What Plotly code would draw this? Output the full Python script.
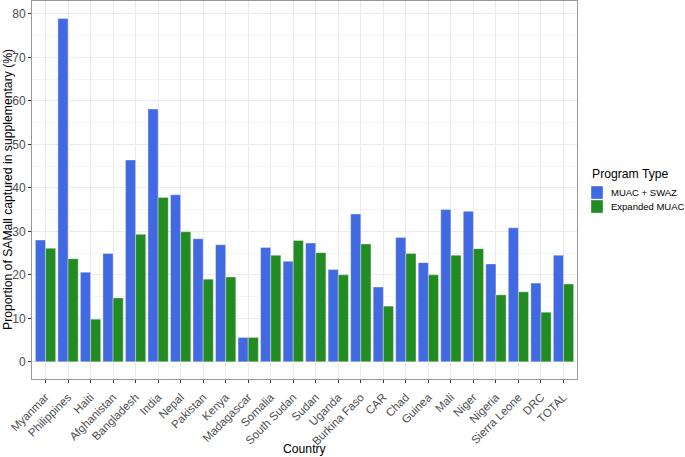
import plotly.graph_objects as go

countries = ["Myanmar", "Philippines", "Haiti", "Afghanistan", "Bangladesh", "India", "Nepal",
             "Pakistan", "Kenya", "Madagascar", "Somalia", "South Sudan", "Sudan", "Uganda",
             "Burkina Faso", "CAR", "Chad", "Guinea", "Mali", "Niger", "Nigeria",
             "Sierra Leone", "DRC", "TOTAL"]
muac_swaz = [28.0, 78.9, 20.6, 24.9, 46.4, 58.1, 38.4, 28.3, 26.9, 5.6, 26.3, 23.1, 27.3, 21.2,
             34.0, 17.2, 28.6, 22.8, 35.0, 34.6, 22.5, 30.8, 18.1, 24.5]
expanded_muac = [26.1, 23.7, 9.8, 14.7, 29.3, 37.8, 29.9, 19.0, 19.5, 5.6, 24.5, 27.9, 25.1, 20.0,
                 27.1, 12.8, 24.9, 20.0, 24.5, 26.0, 15.4, 16.1, 11.4, 17.9]
series_names = ["MUAC + SWAZ", "Expanded MUAC"]
series_colors = ["#4169E1", "#228B22"]
y_ticks = [0, 10, 20, 30, 40, 50, 60, 70, 80]

W, H = 685, 457
L, R, T, B = 32, 108, 1, 78

fig = go.Figure()
for name, vals, col in zip(series_names, [muac_swaz, expanded_muac], series_colors):
    fig.add_trace(go.Bar(x=countries, y=vals, name=name, showlegend=False,
                         marker=dict(color=col, line=dict(color="rgba(255,255,255,0.6)", width=0.6))))

# Legend drawn manually (ggplot-style compact keys)
def px_x(p):
    return (p - L) / (W - L - R)

def px_y(p):
    return 1 - (p - T) / (H - T - B)

annotations = [
    dict(text="Program Type", x=px_x(590), y=px_y(174), xref="paper", yref="paper",
         xanchor="left", yanchor="middle", showarrow=False,
         font=dict(size=12.2, color="#000")),
    dict(text="Country", x=0.5, y=px_y(449), xref="paper", yref="paper",
         xanchor="center", yanchor="middle", showarrow=False,
         font=dict(size=12.2, color="#000")),
    dict(text="Proportion of SAMall captured in supplementary (%)", x=px_x(8), y=px_y(190),
         xref="paper", yref="paper", xanchor="center", yanchor="middle", showarrow=False,
         textangle=-90, font=dict(size=12.2, color="#000")),
]
shapes = []
for i, (name, col) in enumerate(zip(series_names, series_colors)):
    top = 186 + i * 14
    shapes.append(dict(type="rect", xref="paper", yref="paper",
                       x0=px_x(591), x1=px_x(603), y0=px_y(top), y1=px_y(top + 13),
                       fillcolor=col, line=dict(color="rgba(255,255,255,0.6)", width=0.6)))
    annotations.append(dict(text=name, x=px_x(609), y=px_y(top + 6.5), xref="paper", yref="paper",
                            xanchor="left", yanchor="middle", showarrow=False,
                            font=dict(size=9.5, color="#000")))

fig.update_layout(
    width=W, height=H,
    margin=dict(l=L, r=R, t=T, b=B),
    paper_bgcolor="white", plot_bgcolor="white",
    barmode="group", bargap=0.1, bargroupgap=0,
    font=dict(family="Liberation Sans, Arial, sans-serif", color="#000000"),
    annotations=annotations, shapes=shapes,
    xaxis=dict(
        range=[-0.6, 23.6], tickangle=-45, tickfont=dict(size=11.5, color="#4D4D4D"),
        ticks="outside", ticklen=3, tickcolor="#333333", tickwidth=0.8, ticklabelstandoff=3,
        showgrid=True, gridcolor="#EBEBEB", gridwidth=1, automargin=False,
        showline=True, mirror=True, linecolor="#999999", linewidth=1,
    ),
    yaxis=dict(
        range=[-3.95, 82.95], tickvals=y_ticks, tickfont=dict(size=12, color="#4D4D4D"),
        ticks="outside", ticklen=3, tickcolor="#333333", tickwidth=0.8,
        showgrid=True, gridcolor="#EBEBEB", gridwidth=1, zeroline=False, automargin=False,
        minor=dict(dtick=5, showgrid=True, gridcolor="#F5F5F5", gridwidth=0.6, ticks=""),
        showline=True, mirror=True, linecolor="#999999", linewidth=1,
    ),
)

fig.write_html("out.html", config={"displayModeBar": False},
               post_script="document.body.style.margin='0';document.body.style.overflow='hidden';")
